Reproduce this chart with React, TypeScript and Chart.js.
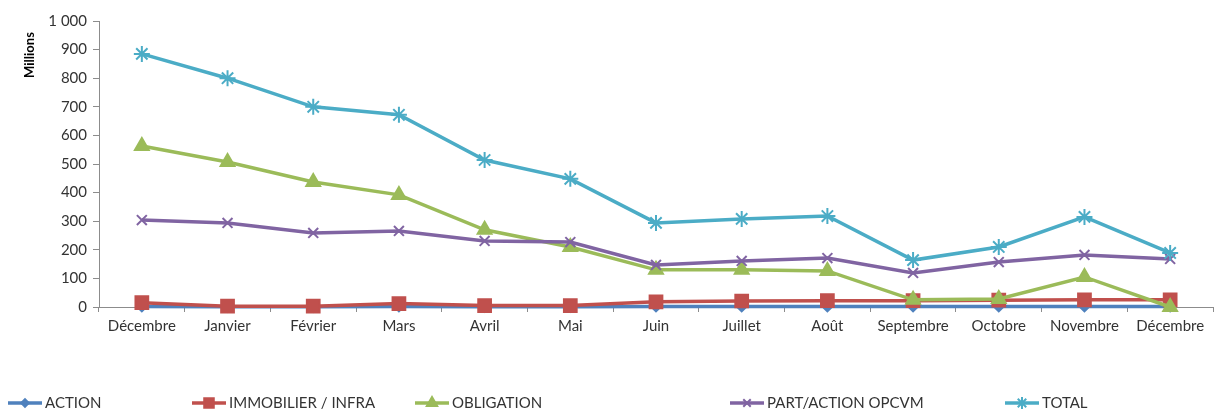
import { useEffect, useRef } from "react";
import { Chart, registerables } from "chart.js";
import { drawPoint } from "chart.js/helpers";
Chart.register(...registerables);

const categories = ["Décembre", "Janvier", "Février", "Mars", "Avril", "Mai", "Juin", "Juillet", "Août", "Septembre", "Octobre", "Novembre", "Décembre"];
const action = [2, 1, 1, 2, 1, 1, 2, 2, 2, 2, 2, 2, 2];
const immobilier = [15, 3, 3, 12, 5, 5, 18, 21, 22, 22, 24, 25, 25];
const obligation = [563, 507, 437, 392, 270, 210, 130, 130, 126, 25, 28, 105, 0];
const partAction = [304, 294, 259, 266, 231, 227, 147, 161, 171, 119, 157, 182, 168];
const total = [885, 800, 700, 672, 514, 448, 294, 308, 318, 164, 210, 315, 189];
const seriesNames = ["ACTION", "IMMOBILIER / INFRA", "OBLIGATION", "PART/ACTION OPCVM", "TOTAL"];
const seriesColors = ["#4F81BD", "#C0504D", "#9BBB59", "#8064A2", "#4BACC6"];
const seriesMarkers = ["rectRot", "rect", "triangle", "crossRot", "star"];
const seriesRadius = [5, 9, 8, 7, 8];
const yMin = 0;
const yMax = 1000;
const yStep = 100;
const yTitle = "Millions";

const FONT = "Lato, 'Liberation Sans', sans-serif";
const TEXT = "#333333";
const AXIS = "#8C8C8C";

const legendX = [8, 192, 415, 730, 1005];

const legendPlugin = {
  id: "excelLegend",
  afterDraw(chart: any) {
    const ctx = chart.ctx;
    const y = 403;
    ctx.save();
    chart.data.datasets.forEach((ds: any, i: number) => {
      const x0 = legendX[i];
      ctx.strokeStyle = ds.borderColor;
      ctx.lineWidth = 3.5;
      ctx.beginPath();
      ctx.moveTo(x0, y);
      ctx.lineTo(x0 + 34, y);
      ctx.stroke();
      ctx.fillStyle = ds.pointBackgroundColor;
      ctx.strokeStyle = ds.pointBorderColor;
      ctx.lineWidth = ds.pointBorderWidth;
      drawPoint(ctx, { pointStyle: ds.pointStyle, radius: ds.pointRadius * 0.75, borderWidth: ds.pointBorderWidth, rotation: 0 } as any, x0 + 17, y);
      ctx.fillStyle = TEXT;
      ctx.font = `15px ${FONT}`;
      ctx.textBaseline = "middle";
      ctx.textAlign = "left";
      ctx.fillText(ds.label, x0 + 37, y);
    });
    ctx.translate(30, 55);
    ctx.rotate(-Math.PI / 2);
    ctx.font = `bold 13px ${FONT}`;
    ctx.fillStyle = "#000";
    ctx.textAlign = "center";
    ctx.textBaseline = "middle";
    ctx.fillText(yTitle, 0, 0);
    ctx.restore();
  },
};

export default function App() {
  const ref = useRef<HTMLCanvasElement>(null);
  useEffect(() => {
    if (!ref.current) return;
    const series = [action, immobilier, obligation, partAction, total];
    const chart = new Chart(ref.current, {
      type: "line",
      data: {
        labels: categories,
        datasets: series.map((d, i) => ({
          label: seriesNames[i],
          data: d,
          borderColor: seriesColors[i],
          backgroundColor: seriesColors[i],
          pointBackgroundColor: seriesColors[i],
          pointBorderColor: seriesColors[i],
          pointBorderWidth: 2,
          pointStyle: seriesMarkers[i] as any,
          pointRadius: seriesRadius[i],
          borderWidth: 3.5,
          tension: 0,
          clip: false as any,
          order: series.length - i,
        })),
      },
      options: {
        responsive: false,
        animation: false,
        layout: { padding: { top: 21, right: 12, bottom: 60, left: 0 } },
        plugins: { legend: { display: false }, tooltip: { enabled: false } },
        scales: {
          x: {
            offset: true,
            grid: { display: true, drawOnChartArea: false, offset: true, tickLength: 5, color: AXIS },
            border: { color: AXIS, width: 1 },
            ticks: { color: TEXT, font: { family: FONT, size: 15 }, padding: 5, maxRotation: 0, autoSkip: false },
            afterFit(scale: any) {
              scale.height = 43;
            },
          },
          y: {
            min: yMin,
            max: yMax,
            grid: { display: true, drawOnChartArea: false, tickLength: 6, color: AXIS },
            border: { color: AXIS, width: 1 },
            ticks: {
              stepSize: yStep,
              color: TEXT,
              padding: 6,
              font: { family: FONT, size: 15 },
              callback: (v: any) => String(v).replace(/\B(?=(\d{3})+(?!\d))/g, " "),
            },
            afterFit(scale: any) {
              scale.width = 99;
            },
          },
        },
      },
      plugins: [legendPlugin],
    });
    return () => chart.destroy();
  }, []);
  return (
    <div style={{ position: "fixed", left: 0, top: 0, width: 1225, height: 410, background: "#fff" }}>
      <canvas ref={ref} width={1225} height={410} />
    </div>
  );
}
